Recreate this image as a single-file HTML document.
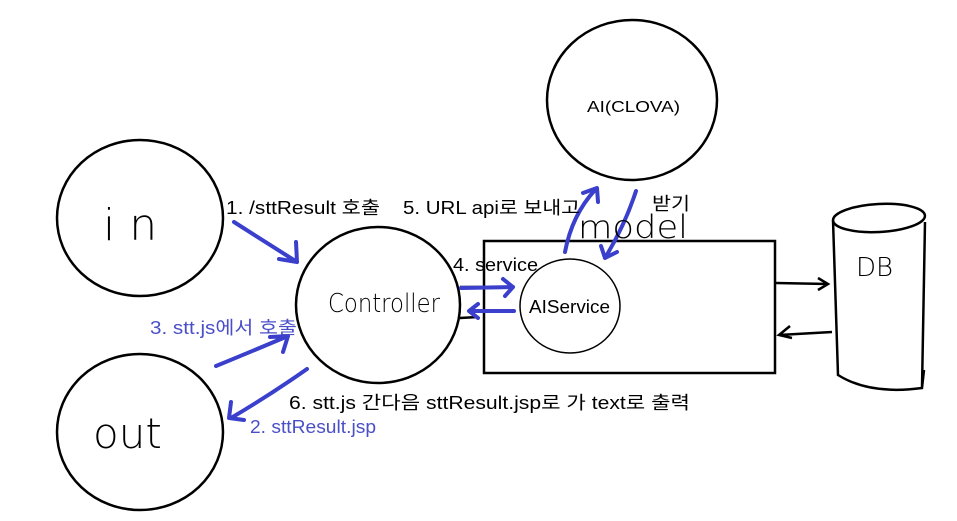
<!DOCTYPE html>
<html><head><meta charset="utf-8"><style>
html,body{margin:0;padding:0;background:#fff;}
svg{display:block;}
text{font-family:"Liberation Sans","Noto Sans CJK KR",sans-serif;}
</style></head><body>
<svg width="957" height="521" viewBox="0 0 957 521" xmlns="http://www.w3.org/2000/svg">
<g fill="none" stroke="#000" stroke-width="2.5">
<ellipse cx="140" cy="218" rx="83" ry="78"/>
<ellipse cx="140" cy="432" rx="83" ry="78"/>
<ellipse cx="378" cy="305" rx="82" ry="78"/>
<ellipse cx="632" cy="100" rx="85" ry="80"/>
<rect x="484" y="241" width="291" height="132"/>
<ellipse cx="879" cy="218" rx="46" ry="14" transform="rotate(-3 879 218)"/>
<path d="M833 220 L838 375 Q870 395 922 388 L924 370 M922 388 L925 222"/>
<path d="M776 283 L828 284 M818 278 L828 284 L818 290"/>
<path d="M832 332 L779 335 M790 326 L779 335 L792 338"/>
<path d="M460 287 L482 287 M460 318 L478 317"/>
</g>
<ellipse cx="570" cy="306" rx="50" ry="47" fill="none" stroke="#000" stroke-width="1.5"/>
<g fill="none" stroke="#3a3fcc" stroke-width="4" stroke-linecap="round" stroke-linejoin="round">
<path d="M234 222 Q270 245 297 262 M279 259 L297 262 L296 242"/>
<path d="M216 366 Q255 350 288 336 M270 337 L288 336 L283 352"/>
<path d="M307 369 Q270 395 231 418 M231 402 L229 418 L244 420"/>
<path d="M461 288 L513 287 M503 279 L513 287 L505 296"/>
<path d="M514 311 L470 311 M478 304 L469 311 L478 318"/>
<path d="M565 252 Q572 215 595 190 M583 193 L597 188 L598 202"/>
<path d="M636 191 Q625 225 605 258 M601 246 L605 258 L617 252"/>
</g>
<g font-size="18" fill="#000">
<text x="226" y="214" textLength="154" lengthAdjust="spacingAndGlyphs">1. /sttResult 호출</text>
<text x="403" y="214" textLength="177" lengthAdjust="spacingAndGlyphs">5. URL api로 보내고</text>
<text x="652" y="210" textLength="38" lengthAdjust="spacingAndGlyphs">받기</text>
<text x="453" y="271" textLength="85" lengthAdjust="spacingAndGlyphs">4. service</text>
<text x="289" y="409" textLength="401" lengthAdjust="spacingAndGlyphs">6. stt.js 간다음 sttResult.jsp로 가 text로 출력</text>
<text x="529" y="313" textLength="81" lengthAdjust="spacingAndGlyphs">AIService</text>
<text x="587" y="112" font-size="16" textLength="93" lengthAdjust="spacingAndGlyphs">AI(CLOVA)</text>
</g>
<g font-size="18" fill="#4a4fc8">
<text x="150" y="334" textLength="147" lengthAdjust="spacingAndGlyphs">3. stt.js에서 호출</text>
<text x="250" y="433" textLength="126" lengthAdjust="spacingAndGlyphs">2. sttResult.jsp</text>
</g>
<g fill="#000" style="font-family:'DejaVu Sans',sans-serif;font-weight:200">
<text x="103" y="240" font-size="44" style="font-family:'DejaVu Sans',sans-serif;font-weight:200">i n</text>
<text x="93" y="448" font-size="42" style="font-family:'DejaVu Sans',sans-serif;font-weight:200">out</text>
<text x="328" y="312" font-size="26" style="font-family:'DejaVu Sans',sans-serif;font-weight:200" textLength="112" lengthAdjust="spacingAndGlyphs">Controller</text>
<text x="578" y="238" font-size="32" style="font-family:'DejaVu Sans',sans-serif;font-weight:200" textLength="110" lengthAdjust="spacingAndGlyphs">model</text>
<text x="856" y="276" font-size="26" style="font-family:'DejaVu Sans',sans-serif;font-weight:200">DB</text>
</g>
</svg>
</body></html>
